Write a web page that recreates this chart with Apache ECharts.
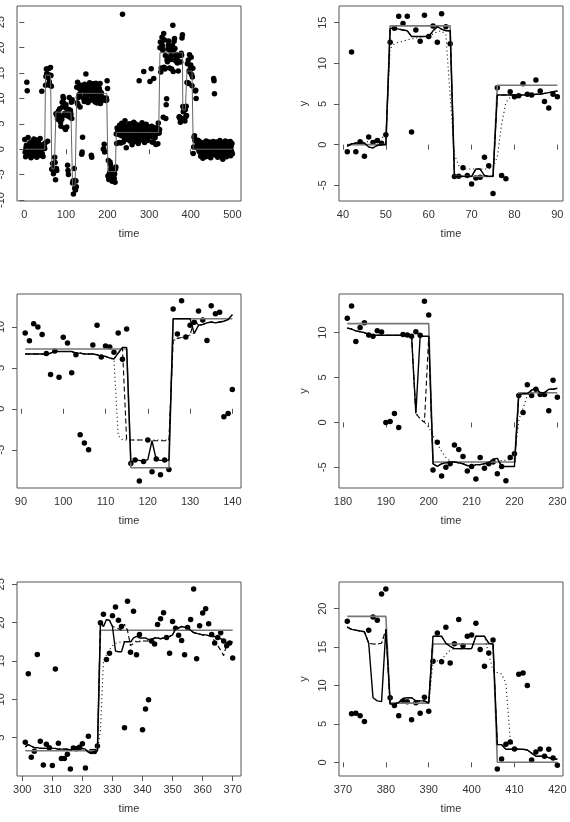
<!DOCTYPE html>
<html>
<head>
<meta charset="utf-8">
<title>step fits</title>
<script src="https://cdn.jsdelivr.net/npm/echarts@6.0.0/dist/echarts.min.js"></script>
<style>
html, body { margin: 0; padding: 0; background: #fff; }
#main { width: 570px; height: 822px; }
</style>
</head>
<body>
<div id="main"></div>
<script>
// observed y, time = 1..500
var y_obs = [
    1.9, -0.6, -1.5, 0.3, 0.8, 13.2, 11.5, -0.2, 2.3, 0.5,
    -1.1, 0.1, 1.2, -0.8, 0.4, -1.7, 0.9, -0.3, 1.5, -1.0,
    0.6, -0.4, 2.0, -1.3, 0.2, 1.0, -0.7, 0.5, 1.8, -1.6,
    0.0, 0.7, -0.9, 1.3, -0.2, 0.9, -1.2, 2.1, 0.4, -0.5,
    -0.86, 11.4, -0.86, 0.37, -1.43, 0.94, 0.25, 0.5, 0.16, 1.23,
    12.6, 14.3, 15.8, 14.9, 15.8, 1.56, 14.1, 12.7, 15.9, 13.3,
    14.6, 12.6, 16.1, 14.5, 12.4, -3.93, -3.9, -2.83, -3.8, -4.84,
    -4.1, -4.0, -1.56, -2.6, -6.0, 7.0, -3.8, -4.2, 6.5, 5.9,
    6.0, 7.5, 6.2, 6.1, 7.95, 6.6, 5.3, 4.5, 6.2, 5.9,
    9.27, 8.3, 10.4, 10.0, 9.07, 6.75, 4.19, 7.07, 3.86, 8.74,
    8.05, 4.39, 6.6, -3.17, -4.19, -5.0, 7.8, 10.2, 6.34, 7.68,
    7.56, 6.9, 9.27, 6.06, 9.76, -6.67, -6.26, -8.82, -6.42, -3.82,
    -7.68, -6.14, -8.05, -6.26, -7.4, 12.2, 9.15, 13.2, 8.78, 10.2,
    10.57, 11.95, 10.85, 8.33, 12.6, 11.6, 11.8, -0.98, -0.57, 2.36,
    12.3, 10.1, 11.6, 9.4, 12.8, 10.7, 11.2, 14.8, 9.9, 12.1,
    10.4, 11.8, 9.2, 12.6, 10.9, 11.5, 13.1, 9.6, 10.8, 12.4,
    -1.2, -1.6, 11.3, 10.2, 12.9, 9.8, 11.7, 10.5, 12.2, 9.3,
    11.0, 13.0, 10.3, 11.9, 9.1, 12.5, 10.6, 11.4, 9.7, 12.0,
    11.6, 12.96, 9.0, 10.56, 11.1, 9.74, 9.6, 10.2, 10.07, 0.0,
    0.1, 1.0, -0.56, 9.8, 9.74, 9.6, 10.1, 9.7, 13.5, 11.96,
    -5.3, -2.2, -5.96, -5.0, -4.6, -2.5, -3.0, -3.8, -5.4, -4.9,
    -6.3, -3.9, -5.1, -4.6, -4.4, -5.7, -4.9, -6.5, -3.9, -3.5,
    3.0, 1.1, 4.2, 3.0, 3.7, 3.1, 3.1, 1.3, 4.7, 2.8,
    4.4, 1.2, 3.8, 5.1, 2.6, 26.6, 3.9, 1.4, 4.8, 3.3,
    2.1, 5.6, 3.6, 2.9, 0.3, 4.2, 3.1, 1.9, 4.6, 3.5,
    2.4, 3.9, 5.0, 1.6, 3.2, 4.5, 2.7, 3.8, 0.9, 4.1,
    3.4, 2.2, 5.3, 3.0, 4.3, 1.5, 3.7, 2.8, 4.9, 3.3,
    2.0, 4.4, 3.6, 1.1, 3.9, 13.5, 2.5, 4.7, 3.2, 1.8,
    4.0, 2.9, 5.2, 3.5, 2.3, 4.6, 15.3, 3.1, 1.3, 4.2,
    2.6, 3.8, 4.9, 2.0, 3.4, 1.7, 4.3, 3.0, 2.4, 3.7,
    4.39, 13.33, 2.44, 3.22, 15.85, 4.52, 1.44, 4.13, 3.7, 1.36,
    13.94, 4.26, 2.27, 2.27, 2.83, 0.92, 3.66, 3.57, 3.74, 4.22,
    1.05, 5.17, 3.18, 3.18, 3.9, 20.0, 21.1, 15.2, 16.0, 20.9,
    22.05, 20.3, 19.5, 6.3, 22.8, 16.15, 21.5, 15.8, 18.45, 6.04,
    8.73, 9.95, 17.6, 17.2, 19.75, 20.5, 21.3, 18.06, 16.0, 20.14,
    19.27, 18.36, 17.67, 15.8, 19.36, 20.4, 24.4, 15.3, 19.6, 21.27,
    21.8, 19.84, 18.45, 17.36, 18.06, 18.67, 17.6, 17.0, 17.36, 15.4,
    18.35, 6.33, 6.38, 6.07, 5.3, 17.18, 18.9, 18.5, 21.9, 22.56,
    8.42, 7.38, 6.07, 7.94, 7.9, 5.55, 7.77, 6.38, 8.46, 6.64,
    13.15, 16.83, 13.1, 17.57, 12.93, 15.44, 18.6, 15.18, 16.4, 16.57,
    18.1, 14.7, 12.5, 14.23, 15.92, -0.87, 0.43, 2.34, 2.65, 1.74,
    11.45, 11.63, 10.0, 0.3, 1.34, 1.74, 0.78, 1.7, 0.56, -0.39,
    1.5, -0.6, 0.8, -1.4, 0.2, 1.1, -0.9, 0.5, -1.8, 0.9,
    -0.3, 1.3, -1.1, 0.1, 0.7, -1.5, 1.6, -0.4, 0.3, -0.8,
    1.2, -1.3, 0.6, -0.1, 1.4, -0.7, 0.4, -1.7, 0.9, -0.2,
    1.0, -1.0, 0.2, 1.5, 13.9, 13.5, 10.9, -0.5, 0.8, -1.2,
    0.3, 1.4, -0.6, 0.0, -1.6, 1.1, -0.3, 0.7, -0.9, 1.7,
    -0.1, 0.5, -1.4, 1.2, -0.5, 0.9, -2.0, 0.2, 1.3, -0.8,
    0.6, -1.1, 1.6, -0.2, 0.4, -1.5, 1.0, -0.7, 0.3, 1.4,
    -1.2, 0.1, 0.8, -0.6, 1.5, -1.3, 0.5, -0.4, 1.1, -0.9
];

// true mean: level holds from seg_start[k] until the next start
var seg_start = [1, 51, 66, 76, 116, 126, 201, 221, 326, 381, 391, 406];
var seg_level = [0, 14.6, -3.9, 7.3, -7.2, 11.0, -4.4, 3.3, 19.0, 7.7, 15.4, 0];

// fitted curves for the zoomed panels (solid / dashed / dotted)
var fit_solid_2 = [-0.2, 0.1, 0.2, 0.2, 0.2, -0.3, -0.4, -0.1, 0.0, 0.0,
    14.3, 14.3, 14.2, 14.1, 14.0, 13.3, 13.3, 13.3, 13.3, 13.3,
    14.0, 14.5, 14.2, 14.0, 14.0, -3.9, -3.9, -3.9, -3.9, -3.9,
    -3.0, -3.0, -3.8, -3.9, -3.9, 6.1, 6.1, 6.1, 6.1, 6.1,
    6.1, 6.1, 6.1, 6.1, 6.2, 6.2, 6.3, 6.4, 6.5, 6.6];
var fit_dash_2 = [-0.2, 0.1, 0.2, 0.2, 0.2, -0.3, -0.4, -0.1, 0.0, 0.0,
    14.3, 14.3, 14.2, 14.1, 14.0, 13.3, 13.3, 13.3, 13.3, 13.3,
    14.0, 14.5, 14.2, 14.0, 14.0, -3.9, -3.9, -3.9, -3.9, -3.9,
    -3.0, -3.0, -3.8, -3.9, -3.9, 6.1, 6.1, 6.1, 6.1, 6.1,
    6.1, 6.1, 6.1, 6.1, 6.2, 6.2, 6.3, 6.4, 6.5, 6.6];
var fit_dot_2 = [0.0, 0.1, 0.2, 0.3, 0.3, 0.4, 0.5, 0.6, 0.8, 1.2,
    11.8, 12.4, 12.6, 12.7, 12.9, 13.0, 13.1, 13.2, 13.3, 13.4,
    13.6, 13.9, 14.0, 13.5, 6.0, -1.2, -2.6, -3.0, -3.0, -3.0,
    -3.0, -3.0, -3.0, -3.0, -2.8, -1.5, 2.5, 5.2, 5.8, 6.0,
    6.1, 6.1, 6.1, 6.1, 6.2, 6.2, 6.3, 6.4, 6.5, 6.6];

var fit_solid_3 = [6.7, 6.7, 6.7, 6.7, 6.7, 6.6, 6.8, 7.0, 7.0, 7.0,
    7.0, 7.0, 6.8, 6.8, 6.7, 6.7, 6.7, 6.6, 6.4, 6.4,
    6.2, 6.1, 6.8, 7.5, 7.5, -6.5, -6.3, -6.3, -6.4, -6.2,
    -3.9, -6.2, -6.3, -6.3, -6.3, 11.0, 11.0, 11.0, 11.0, 11.0,
    9.2, 10.2, 10.3, 10.5, 10.6, 10.5, 10.6, 10.7, 10.9, 11.5];
var fit_dash_3 = [6.7, 6.7, 6.7, 6.7, 6.7, 6.6, 6.8, 7.0, 7.0, 7.0,
    7.0, 7.0, 6.8, 6.8, 6.7, 6.7, 6.7, 6.6, 6.4, 6.4,
    6.2, 6.1, 6.8, 7.5, -3.8, -3.8, -3.8, -3.8, -3.8, -3.8,
    -3.9, -3.9, -3.9, -3.9, -3.9, 8.3, 8.6, 8.7, 8.8, 9.0,
    10.9, 10.2, 10.3, 10.5, 10.6, 10.5, 10.6, 10.7, 10.9, 11.5];
var fit_dot_3 = [6.7, 6.7, 6.7, 6.7, 6.7, 6.6, 6.8, 7.0, 7.0, 7.0,
    7.0, 7.0, 6.8, 6.8, 6.7, 6.7, 6.7, 6.6, 6.4, 6.4,
    6.2, 6.0, -3.3, -3.8, -3.8, -3.8, -3.8, -3.8, -3.8, -3.8,
    -3.8, -3.8, -3.8, -3.8, -3.8, 8.3, 8.6, 8.7, 8.8, 9.0,
    9.3, 10.2, 10.3, 10.5, 10.6, 10.5, 10.6, 10.7, 10.9, 11.5];

var fit_solid_4 = [10.5, 10.4, 10.2, 10.1, 10.0, 9.8, 9.7, 9.7, 9.7, 9.7,
    9.7, 9.7, 9.7, 9.7, 9.7, 9.6, 1.0, 9.6, 9.6, 9.6,
    -4.6, -4.9, -4.6, -4.5, -4.4, -4.4, -4.5, -4.6, -4.8, -4.9,
    -4.7, -4.7, -4.6, -4.5, -4.1, -4.0, -4.9, -4.9, -4.9, -4.9,
    3.1, 3.2, 3.2, 3.6, 3.8, 3.3, 3.3, 3.7, 3.7, 3.8];
var fit_dash_4 = [10.5, 10.4, 10.2, 10.1, 10.0, 9.8, 9.7, 9.7, 9.7, 9.7,
    9.7, 9.7, 9.7, 9.7, 9.7, 9.6, 1.0, 0.4, 0.0, 9.6,
    -4.6, -4.9, -4.6, -4.5, -4.4, -4.4, -4.5, -4.6, -4.8, -4.9,
    -4.7, -4.7, -4.6, -4.5, -4.1, -4.0, -4.9, -4.9, -4.9, -4.9,
    3.1, 3.2, 3.2, 3.6, 3.8, 3.3, 3.3, 3.7, 3.7, 3.8];
var fit_dot_4 = [10.5, 10.4, 10.2, 10.1, 10.0, 9.8, 9.7, 9.7, 9.7, 9.7,
    9.7, 9.7, 9.7, 9.7, 9.7, 9.6, 1.0, 0.4, 0.0, -0.5,
    -1.5, -2.4, -3.2, -3.9, -4.3, -4.4, -4.5, -4.6, -4.8, -4.9,
    -4.7, -4.7, -4.6, -4.5, -4.1, -4.0, -4.3, -4.2, -4.1, -4.0,
    0.3, 1.6, 3.0, 3.6, 3.8, 3.3, 3.3, 3.7, 3.7, 3.8];

var fit_solid_5 = [3.8, 4.1, 3.9, 3.7, 3.7, 3.6, 3.6, 3.6, 3.7, 3.6,
    3.6, 3.5, 3.5, 3.5, 3.5, 3.4, 3.5, 3.5, 3.5, 3.6,
    3.5, 3.1, 3.0, 3.2, 3.3, 20.0, 19.5, 20.4, 20.3, 19.5,
    16.3, 16.2, 16.2, 17.5, 17.5, 17.5, 18.0, 18.2, 18.0, 18.0,
    18.0, 17.8, 17.8, 18.0, 18.0, 17.9, 18.0, 18.1, 18.2, 18.4,
    19.2, 19.3, 19.5, 19.4, 19.4, 19.0, 18.7, 18.6, 18.5, 18.4,
    18.4, 18.3, 18.2, 18.2, 18.0, 17.9, 17.7, 17.3, 17.4, 17.5];
var fit_dash_5 = [3.8, 4.1, 3.9, 3.7, 3.7, 3.6, 3.6, 3.6, 3.7, 3.6,
    3.6, 3.5, 3.5, 3.5, 3.5, 3.4, 3.5, 3.5, 3.5, 3.6,
    3.5, 3.1, 3.0, 3.2, 3.3, 20.0, 19.5, 20.4, 20.3, 19.5,
    19.4, 19.2, 19.0, 19.8, 19.0, 17.0, 17.3, 17.5, 17.5, 17.6,
    17.6, 17.6, 17.8, 18.0, 18.0, 17.9, 18.0, 18.1, 18.2, 18.4,
    19.2, 19.3, 19.5, 19.4, 19.4, 19.0, 18.7, 18.6, 18.5, 18.4,
    18.4, 18.3, 18.2, 17.6, 17.0, 16.4, 15.7, 17.2, 17.4, 17.5];
var fit_dot_5 = [3.8, 4.1, 3.9, 3.7, 3.7, 3.6, 3.6, 3.6, 3.7, 3.6,
    3.6, 3.5, 3.5, 3.5, 3.5, 3.4, 3.5, 3.5, 3.5, 3.6,
    3.5, 3.1, 3.0, 3.2, 3.3, 6.0, 15.0, 15.8, 16.5, 17.0,
    17.3, 17.4, 17.5, 17.5, 17.5, 17.5, 17.5, 17.6, 17.6, 17.6,
    17.6, 17.6, 17.8, 18.0, 18.0, 17.9, 18.0, 18.1, 18.2, 18.4,
    19.2, 19.3, 19.5, 19.4, 19.4, 19.0, 18.7, 18.6, 18.5, 18.4,
    18.4, 18.3, 18.2, 18.2, 18.0, 17.9, 17.7, 17.3, 17.4, 17.5];

var fit_solid_6 = [17.6, 17.3, 17.2, 17.1, 17.0, 15.5, 8.4, 8.0, 7.9, 17.3,
    7.6, 7.6, 7.8, 8.3, 8.4, 8.4, 8.0, 8.0, 8.0, 7.7,
    16.4, 16.4, 16.4, 15.5, 15.1, 14.8, 14.8, 14.8, 14.8, 14.8,
    16.4, 16.4, 16.4, 15.5, 15.4, 2.3, 2.3, 1.7, 1.7, 1.7,
    1.7, 1.7, 1.6, 1.2, 0.8, 0.8, 0.8, 0.6, 0.5, 0.4];
var fit_dash_6 = [17.6, 17.3, 17.2, 17.1, 17.0, 15.5, 15.4, 15.4, 15.5, 17.3,
    7.6, 7.6, 7.8, 8.3, 8.4, 8.4, 8.0, 8.0, 8.0, 7.7,
    16.4, 16.4, 16.4, 15.5, 15.1, 14.8, 14.8, 14.8, 14.8, 14.8,
    16.4, 16.4, 16.4, 15.5, 15.4, 2.3, 2.3, 1.7, 1.7, 1.7,
    1.7, 1.7, 1.6, 1.2, 0.8, 0.8, 0.8, 0.6, 0.5, 0.4];
var fit_dot_6 = [17.6, 17.3, 17.2, 17.1, 17.0, 15.5, 15.4, 15.4, 15.5, 17.3,
    7.6, 7.6, 7.8, 8.3, 8.4, 8.4, 8.0, 8.0, 8.0, 7.7,
    13.1, 13.2, 13.4, 14.0, 14.6, 14.8, 14.8, 14.8, 14.8, 14.8,
    16.4, 16.4, 16.4, 14.0, 12.0, 11.7, 11.5, 10.3, 3.0, 1.8,
    1.7, 1.7, 1.6, 1.2, 0.8, 0.8, 0.8, 0.6, 0.5, 0.4];

// tick labels
var x_ticks_1 = [0, 100, 200, 300, 400, 500];
var y_ticks_1 = [-10, -5, 0, 5, 10, 15, 20, 25];
var x_ticks_2 = [40, 50, 60, 70, 80, 90];
var y_ticks_2 = [-5, 0, 5, 10, 15];
var x_ticks_3 = [90, 100, 110, 120, 130, 140];
var y_ticks_3 = [-5, 0, 5, 10];
var x_ticks_4 = [180, 190, 200, 210, 220, 230];
var y_ticks_4 = [-5, 0, 5, 10];
var x_ticks_5 = [300, 310, 320, 330, 340, 350, 360, 370];
var y_ticks_5 = [5, 10, 15, 20, 25];
var x_ticks_6 = [370, 380, 390, 400, 410, 420];
var y_ticks_6 = [0, 5, 10, 15, 20];

var FONT = 'Liberation Sans, Arial, sans-serif';

function truth_at(t) {
    var v = seg_level[0];
    for (var k = 0; k < seg_start.length; k++) {
        if (t >= seg_start[k]) v = seg_level[k];
    }
    return v;
}

function pairs(from, vals) {
    var out = [];
    for (var i = 0; i < vals.length; i++) out.push([from + i, vals[i]]);
    return out;
}

function truth_pairs(from, to) {
    var out = [];
    for (var t = from; t <= to; t++) out.push([t, truth_at(t)]);
    return out;
}

// panel layout: box position in px, axis range, time window
var panels = [
    {left: 17,  top: 6,   h: 195, xr: [-17.6, 520.8], yr: [-10.2, 28.2], win: [1, 500],   xt: x_ticks_1, yt: y_ticks_1},
    {left: 339, top: 6,   h: 195, xr: [39.07, 91.32],  yr: [-6.93, 17.05], win: [41, 90],  xt: x_ticks_2, yt: y_ticks_2,
        fits: [fit_solid_2, fit_dash_2, fit_dot_2]},
    {left: 17,  top: 294, h: 194, xr: [89.06, 142.05], yr: [-9.67, 14.02], win: [91, 140], xt: x_ticks_3, yt: y_ticks_3,
        fits: [fit_solid_3, fit_dash_3, fit_dot_3]},
    {left: 339, top: 294, h: 194, xr: [179.07, 231.32], yr: [-7.3, 14.3], win: [181, 230], xt: x_ticks_4, yt: y_ticks_4,
        fits: [fit_solid_4, fit_dash_4, fit_dot_4]},
    {left: 17,  top: 582, h: 194, xr: [298.24, 372.76], yr: [0.0, 25.3], win: [301, 370], xt: x_ticks_5, yt: y_ticks_5,
        fits: [fit_solid_5, fit_dash_5, fit_dot_5]},
    {left: 339, top: 582, h: 194, xr: [369.07, 421.32], yr: [-1.78, 23.47], win: [371, 420], xt: x_ticks_6, yt: y_ticks_6,
        fits: [fit_solid_6, fit_dash_6, fit_dot_6]}
];

var grids = [], xAxes = [], yAxes = [], series = [];
var fit_styles = [
    {width: 1.4, type: 'solid'},
    {width: 1.1, type: [5, 3]},
    {width: 1.1, type: [1, 3]}
];

panels.forEach(function (p, i) {
    // outerBoundsMode none: let the left column labels run off the page like the original
    grids.push({left: p.left, top: p.top, width: 224, height: p.h,
        containLabel: false, outerBoundsMode: 'none',
        show: true, borderColor: '#555', borderWidth: 1, backgroundColor: 'transparent'});
    xAxes.push({
        type: 'value', gridIndex: i, min: p.xr[0], max: p.xr[1],
        name: 'time', nameLocation: 'middle', nameGap: 27,
        nameTextStyle: {fontSize: 11, color: '#333', fontFamily: FONT},
        axisLine: {show: false},
        axisTick: {show: true, length: 5, customValues: p.xt, lineStyle: {color: '#555'}},
        axisLabel: {customValues: p.xt, fontSize: 11, margin: 8, color: '#333', fontFamily: FONT},
        splitLine: {show: false}
    });
    yAxes.push({
        type: 'value', gridIndex: i, min: p.yr[0], max: p.yr[1],
        name: 'y', nameLocation: 'middle', nameGap: 30, nameRotate: 90,
        nameTextStyle: {fontSize: 11, color: '#333', fontFamily: FONT},
        axisLine: {show: false},
        axisTick: {show: true, length: 5, customValues: p.yt, lineStyle: {color: '#555'}},
        axisLabel: {customValues: p.yt, rotate: 90, fontSize: 11, margin: 11, color: '#333', fontFamily: FONT},
        splitLine: {show: false}
    });

    var from = p.win[0], to = p.win[1];
    series.push({
        type: 'scatter', xAxisIndex: i, yAxisIndex: i,
        symbol: 'circle', symbolSize: 5.5,
        itemStyle: {color: '#000', opacity: 1},
        data: pairs(from, y_obs.slice(from - 1, to)),
        z: 2
    });
    series.push({
        type: 'line', xAxisIndex: i, yAxisIndex: i, showSymbol: false,
        lineStyle: {color: i === 0 ? '#666' : '#777', width: i === 0 ? 1 : 1.6},
        data: truth_pairs(from, to),
        z: 3
    });
    if (p.fits) {
        p.fits.forEach(function (f, k) {
            series.push({
                type: 'line', xAxisIndex: i, yAxisIndex: i, showSymbol: false,
                lineStyle: {color: '#000', width: fit_styles[k].width, type: fit_styles[k].type},
                data: pairs(from, f),
                z: 4
            });
        });
    }
});

var chart = echarts.init(document.getElementById('main'), null, {renderer: 'canvas'});
chart.setOption({
    animation: false,
    backgroundColor: '#fff',
    grid: grids,
    xAxis: xAxes,
    yAxis: yAxes,
    series: series
});
</script>
</body>
</html>
